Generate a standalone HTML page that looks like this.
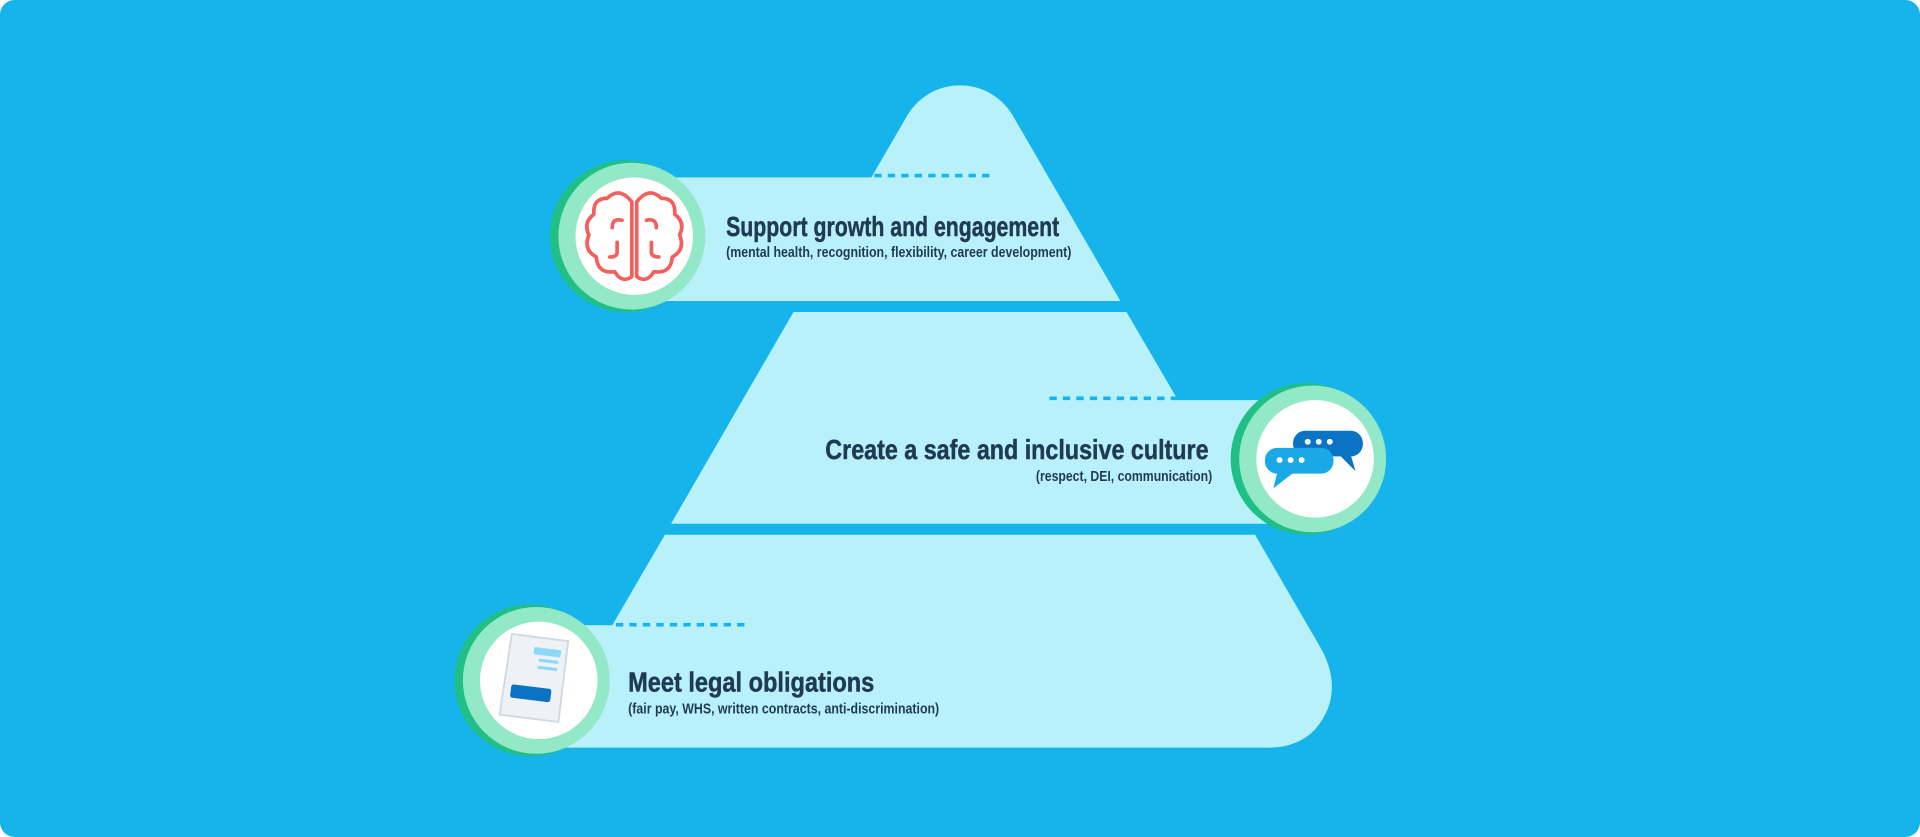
<!DOCTYPE html>
<html><head><meta charset="utf-8"><style>
html,body{margin:0;padding:0;background:#fff;}
svg{display:block}
text{font-family:"Liberation Sans Narrow","Liberation Sans",sans-serif;font-weight:bold;fill:#1f3a52}
</style></head><body>
<svg width="1920" height="837" viewBox="0 0 1568 684" preserveAspectRatio="none">
<rect x="0" y="0" width="1568" height="684" rx="12" fill="#16b4ea"/>
<g fill="#b9f1fb">
<path d="M653,246 L740,96 A50,50 0 0 1 828,96 L915,246 Z"/>
<rect x="520" y="145" width="200" height="101"/>
<path d="M648,255 L920,255 L962,327 L1070,327 L1070,428 L548,428 Z"/>
<path d="M543,437 L1025,437 L1080,532 Q1098,568 1074,596 Q1060,611 1035,611 L440,611 L440,511 L500,511 Z"/>
</g>
<g stroke="#16b4ea" stroke-width="3" stroke-dasharray="6,5">
<line x1="714" y1="143.5" x2="812" y2="143.5"/>
<line x1="857" y1="325.5" x2="962" y2="325.5"/>
<line x1="503" y1="510.5" x2="612" y2="510.5"/>
</g>
<g>
<circle cx="511" cy="193" r="62" fill="#1fbf86"/>
<circle cx="516" cy="193" r="60" fill="#93e8c8"/>
<circle cx="518" cy="193" r="48" fill="#fff"/>
<circle cx="1067" cy="375" r="62" fill="#1fbf86"/>
<circle cx="1072" cy="375" r="60" fill="#93e8c8"/>
<circle cx="1074" cy="375" r="48" fill="#fff"/>
<circle cx="433" cy="556" r="62" fill="#1fbf86"/>
<circle cx="438" cy="556" r="60" fill="#93e8c8"/>
<circle cx="440" cy="556" r="48" fill="#fff"/>
</g>
<g fill="none" stroke="#f25f5c" stroke-width="3" stroke-linecap="round" stroke-linejoin="round">
<path d="M516,165 Q506,152 496,162 Q484,162 485,175 Q476,182 481,192 Q476,204 487,210 Q488,224 502,222 Q508,232 516,226 Z"/>
<path d="M520,165 Q530,152 540,162 Q552,162 551,175 Q560,182 555,192 Q560,204 549,210 Q548,224 534,222 Q528,232 520,226 Z"/>
<path d="M500,186 Q500,178 508,180"/><path d="M536,186 Q536,178 528,180"/>
<path d="M504,198 L504,206 Q504,210 498,210"/><path d="M532,198 L532,206 Q532,210 538,210"/>
</g>
<rect x="1056" y="352" width="57" height="21" rx="10" fill="#0a73c4"/>
<path d="M1092,370 L1107,385 L1102,368 Z" fill="#0a73c4"/>
<rect x="1033" y="366" width="56" height="21" rx="10" fill="#1aa9e6"/>
<path d="M1044,382 L1040,399 L1058,385 Z" fill="#1aa9e6"/>
<g fill="#fff"><circle cx="1068" cy="361" r="2.4"/><circle cx="1077" cy="361" r="2.4"/><circle cx="1086" cy="361" r="2.4"/>
<circle cx="1045" cy="376" r="2.4"/><circle cx="1054" cy="376" r="2.4"/><circle cx="1063" cy="376" r="2.4"/></g>
<path d="M418,518 L464,524 L456,590 L408,584 Z" fill="#eef2f6" stroke="#d0d8e0" stroke-width="1.5"/>
<rect x="436" y="530" width="22" height="6" fill="#8fd8f3" transform="rotate(7 447 533)"/>
<rect x="440" y="539" width="16" height="2.5" fill="#8fd8f3" transform="rotate(7 447 540)"/>
<rect x="439" y="545" width="16" height="2.5" fill="#8fd8f3" transform="rotate(7 447 546)"/>
<rect x="417" y="561" width="33" height="11" rx="2" fill="#0a73c4" transform="rotate(7 433 566)"/>
<text x="593" y="193" font-size="23" textLength="272" lengthAdjust="spacingAndGlyphs" stroke="#1f3a52" stroke-width="0.4">Support growth and engagement</text>
<text x="593" y="210" font-size="12" textLength="282" lengthAdjust="spacingAndGlyphs">(mental health, recognition, flexibility, career development)</text>
<text x="674" y="375" font-size="23" textLength="313" lengthAdjust="spacingAndGlyphs" stroke="#1f3a52" stroke-width="0.4">Create a safe and inclusive culture</text>
<text x="846" y="393" font-size="12" textLength="144" lengthAdjust="spacingAndGlyphs">(respect, DEI, communication)</text>
<text x="513" y="565" font-size="23" textLength="201" lengthAdjust="spacingAndGlyphs" stroke="#1f3a52" stroke-width="0.4">Meet legal obligations</text>
<text x="513" y="583" font-size="12" textLength="254" lengthAdjust="spacingAndGlyphs">(fair pay, WHS, written contracts, anti-discrimination)</text>
</svg>
</body></html>
